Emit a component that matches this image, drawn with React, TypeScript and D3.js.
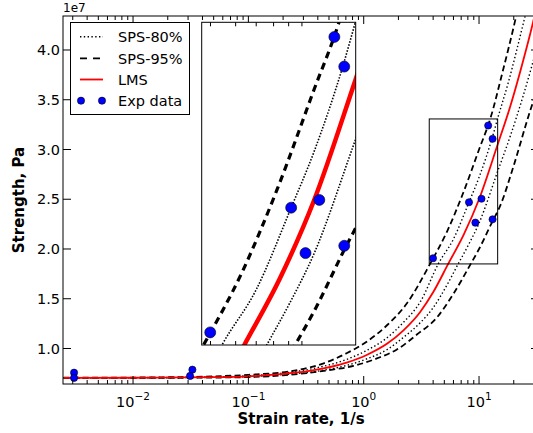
import React from 'react';
import * as d3 from 'd3';

// strain rate (1/s), strength (x1e7 Pa)
const lms: [number, number][] = [
  [0.0025, 0.705], [0.01, 0.706], [0.05, 0.712], [0.1, 0.72], [0.19, 0.742], [0.37, 0.782],
  [0.71, 0.858], [1.06, 0.935], [1.6, 1.05], [2.2, 1.18], [3.1, 1.37], [4.0, 1.565],
  [5.4, 1.85], [7.4, 2.15], [10, 2.5], [14.5, 3.05], [18.6, 3.43], [22.7, 3.78], [29.4, 4.28], [34, 4.6],
];
const sps80Upper: [number, number][] = [
  [0.0025, 0.705], [0.01, 0.707], [0.05, 0.715], [0.1, 0.726], [0.19, 0.75], [0.37, 0.8],
  [0.71, 0.89], [1.06, 0.98], [1.6, 1.11], [2.2, 1.26], [3.1, 1.47], [4.43, 1.85], [6, 2.1],
  [8.18, 2.47], [10, 2.72], [13.1, 3.13], [14.4, 3.3], [18, 3.68], [24.6, 4.3], [30, 4.7],
];
const sps80Lower: [number, number][] = [
  [0.0025, 0.705], [0.01, 0.705], [0.05, 0.71], [0.1, 0.716], [0.19, 0.735], [0.37, 0.767],
  [0.71, 0.83], [1.06, 0.895], [1.6, 0.99], [2.2, 1.11], [3.1, 1.26], [4.0, 1.41], [5.4, 1.66],
  [6.59, 1.85], [8, 2.03], [10, 2.26], [14.5, 2.78], [18.6, 3.13], [24, 3.53], [34, 4.15],
];
const sps95Upper: [number, number][] = [
  [0.0025, 0.706], [0.01, 0.708], [0.05, 0.72], [0.1, 0.735], [0.27, 0.784], [0.45, 0.851],
  [0.71, 0.952], [1.06, 1.068], [1.6, 1.236], [2.37, 1.454], [3.76, 1.85], [5.3, 2.18],
  [7.21, 2.55], [10, 3.0], [12.5, 3.307], [16, 3.78], [20.6, 4.3], [25, 4.75],
];
const sps95Lower: [number, number][] = [
  [0.0025, 0.704], [0.01, 0.704], [0.05, 0.708], [0.1, 0.713], [0.2, 0.73], [0.48, 0.78],
  [0.815, 0.825], [1.3, 0.9], [1.94, 0.99], [2.89, 1.14], [4.3, 1.31], [6, 1.55], [8.47, 1.85],
  [10, 2.0], [13.1, 2.28], [15.2, 2.43], [20, 2.84], [26.9, 3.34], [34, 3.7],
];
const expRate = [0.00308, 0.00308, 0.0327, 0.0312, 3.99, 8.18, 10.5, 9.29, 12.0, 13.1, 13.1];
const expStrength = [0.757, 0.704, 0.787, 0.724, 1.907, 2.47, 2.505, 2.265, 3.241, 3.107, 2.298];

const yTicks = [1.0, 1.5, 2.0, 2.5, 3.0, 3.5, 4.0];
const xMajors = [0.01, 0.1, 1, 10];
const xMajorLabels = ['\u22122', '\u22121', '0', '1'];
const legendItems = ['SPS-80%', 'SPS-95%', 'LMS', 'Exp data'];

const zoomX: [number, number] = [3.7, 14.5];
const zoomY: [number, number] = [1.85, 3.307];

const FONT = 'DejaVu Sans, sans-serif';

function Curves({ x, y, scale }: { x: any; y: any; scale: number }) {
  const line = d3.line<[number, number]>()
    .x((d) => x(d[0]))
    .y((d) => y(d[1]))
    .curve(d3.curveMonotoneX);
  const big = scale > 1;
  const dashW = big ? 3.2 : 1.8;
  const dash = big ? '7,5' : '6,3.5';
  const dotW = big ? 1.6 : 1.4;
  const dot = big ? '1.5,1.6' : '1.4,2.4';
  return (
    <g fill="none">
      <path d={line(sps95Upper) || ''} stroke="#000" strokeWidth={dashW} strokeDasharray={dash} />
      <path d={line(sps95Lower) || ''} stroke="#000" strokeWidth={dashW} strokeDasharray={dash} />
      <path d={line(sps80Upper) || ''} stroke="#000" strokeWidth={dotW} strokeDasharray={dot} />
      <path d={line(sps80Lower) || ''} stroke="#000" strokeWidth={dotW} strokeDasharray={dot} />
      <path d={line(lms) || ''} stroke="#ff0000" strokeWidth={big ? 4.5 : 1.8} />
      {expRate.map((r, i) => (
        <circle key={i} cx={x(r)} cy={y(expStrength[i])} r={big ? 5.5 : 3.6}
          fill="#0000ff" stroke="#000" strokeWidth={0.6} />
      ))}
    </g>
  );
}

export default function App() {
  const W = 533, H = 433;
  const m = { left: 63, right: 539, top: 16, bottom: 384 };
  const x = d3.scaleLog().domain([0.00247, 33.1]).range([m.left, m.right]);
  const y = d3.scaleLinear().domain([0.6432, 4.3417]).range([m.bottom, m.top]);

  const ins = { left: 201.7, right: 355.7, top: 22.3, bottom: 345 };
  const xi = d3.scaleLog().domain(zoomX).range([ins.left, ins.right]);
  const yi = d3.scaleLinear().domain(zoomY).range([ins.bottom, ins.top]);

  const xTicks = x.ticks().filter((t) => t >= x.domain()[0] && t <= x.domain()[1]);
  const isMajor = (t: number) => Math.abs(Math.log10(t) - Math.round(Math.log10(t))) < 1e-9;
  const insetMinor = xi.ticks().filter((t) => !isMajor(t));

  const legendRowY = [36.7, 58.3, 79.5, 100.7];

  return (
    <svg width={W} height={H} style={{ position: 'absolute', left: 0, top: 0, background: '#fff' }}
      fontFamily={FONT}>
      <defs>
        <clipPath id="mainClip">
          <rect x={m.left} y={m.top} width={m.right - m.left} height={m.bottom - m.top} />
        </clipPath>
        <clipPath id="insetClip">
          <rect x={ins.left} y={ins.top} width={ins.right - ins.left} height={ins.bottom - ins.top} />
        </clipPath>
      </defs>
      <rect width={W} height={H} fill="#fff" />

      {/* main data */}
      <g clipPath="url(#mainClip)">
        <Curves x={x} y={y} scale={1} />
        <rect x={x(zoomX[0])} y={y(zoomY[1])} width={x(zoomX[1]) - x(zoomX[0])}
          height={y(zoomY[0]) - y(zoomY[1])} fill="none" stroke="#000" strokeWidth={1} />
      </g>

      {/* x ticks, inward on bottom and top */}
      <g stroke="#000" strokeWidth={1}>
        {xTicks.map((t, i) => {
          const len = isMajor(t) ? 8 : 4;
          const px = x(t);
          return (
            <g key={i}>
              <line x1={px} x2={px} y1={m.bottom} y2={m.bottom - len} />
              <line x1={px} x2={px} y1={m.top} y2={m.top + len} />
            </g>
          );
        })}
        {yTicks.map((t, i) => (
          <g key={i}>
            <line x1={m.left} x2={m.left + 8} y1={y(t)} y2={y(t)} />
            <line x1={m.right} x2={m.right - 8} y1={y(t)} y2={y(t)} />
          </g>
        ))}
      </g>
      <rect x={m.left} y={m.top} width={m.right - m.left} height={m.bottom - m.top}
        fill="none" stroke="#000" strokeWidth={1} />

      {/* tick labels */}
      <g fontSize={14.5} fill="#000">
        {yTicks.map((t, i) => (
          <text key={i} x={m.left - 3} y={y(t)} dy="0.36em" textAnchor="end">{t.toFixed(1)}</text>
        ))}
        {xMajors.map((t, i) => (
          <text key={i} x={x(t)} y={407} textAnchor="middle">
            10<tspan dy={-7} fontSize={10.5}>{xMajorLabels[i]}</tspan>
          </text>
        ))}
      </g>
      <text x={m.left} y={12} fontSize={12}>1e7</text>

      {/* axis titles */}
      <text x={(m.left + m.right) / 2} y={424} textAnchor="middle" fontSize={15} fontWeight="bold">
        Strain rate, 1/s
      </text>
      <text transform={`translate(24,${(m.top + m.bottom) / 2}) rotate(-90)`} textAnchor="middle"
        fontSize={15} fontWeight="bold">
        Strength, Pa
      </text>

      {/* inset */}
      <rect x={ins.left} y={ins.top} width={ins.right - ins.left} height={ins.bottom - ins.top} fill="#fff" />
      <g clipPath="url(#insetClip)">
        <Curves x={xi} y={yi} scale={2} />
      </g>
      <g stroke="#000" strokeWidth={1}>
        {insetMinor.map((t, i) => (
          <g key={i}>
            <line x1={xi(t)} x2={xi(t)} y1={ins.bottom} y2={ins.bottom - 4} />
            <line x1={xi(t)} x2={xi(t)} y1={ins.top} y2={ins.top + 4} />
          </g>
        ))}
      </g>
      <rect x={ins.left} y={ins.top} width={ins.right - ins.left} height={ins.bottom - ins.top}
        fill="none" stroke="#000" strokeWidth={1} />

      {/* legend */}
      <g>
        <rect x={70.5} y={22.5} width={119} height={92} fill="#fff" stroke="#000" strokeWidth={1} />
        <line x1={80} x2={103} y1={legendRowY[0]} y2={legendRowY[0]} stroke="#000" strokeWidth={1.4} strokeDasharray="1.4,2.4" />
        <line x1={80} x2={103} y1={legendRowY[1]} y2={legendRowY[1]} stroke="#000" strokeWidth={1.8} strokeDasharray="7,6" />
        <line x1={80} x2={103} y1={legendRowY[2]} y2={legendRowY[2]} stroke="#ff0000" strokeWidth={1.8} />
        <circle cx={81} cy={legendRowY[3]} r={3.6} fill="#0000ff" stroke="#000" strokeWidth={0.6} />
        <circle cx={102} cy={legendRowY[3]} r={3.6} fill="#0000ff" stroke="#000" strokeWidth={0.6} />
        {legendItems.map((s, i) => (
          <text key={i} x={118} y={legendRowY[i]} dy="0.36em" fontSize={14.5}>{s}</text>
        ))}
      </g>
    </svg>
  );
}
